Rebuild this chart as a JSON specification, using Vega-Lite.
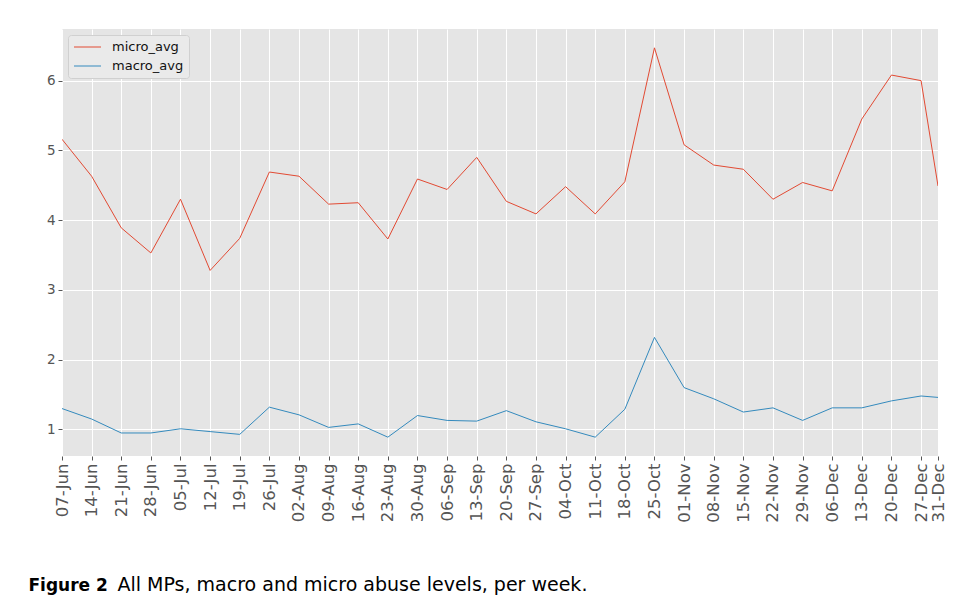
{
  "$schema": "https://vega.github.io/schema/vega-lite/v6.json",
  "autosize": "none",
  "width": 876,
  "height": 427,
  "padding": {"left": 62, "top": 29, "right": 17, "bottom": 148},
  "background": "white",
  "data": {
    "values": [
      {"week": "2019-06-07T00:00:00", "micro_avg": 5.16, "macro_avg": 1.30},
      {"week": "2019-06-14T00:00:00", "micro_avg": 4.63, "macro_avg": 1.15},
      {"week": "2019-06-21T00:00:00", "micro_avg": 3.89, "macro_avg": 0.95},
      {"week": "2019-06-28T00:00:00", "micro_avg": 3.53, "macro_avg": 0.95},
      {"week": "2019-07-05T00:00:00", "micro_avg": 4.30, "macro_avg": 1.01},
      {"week": "2019-07-12T00:00:00", "micro_avg": 3.28, "macro_avg": 0.97},
      {"week": "2019-07-19T00:00:00", "micro_avg": 3.74, "macro_avg": 0.93},
      {"week": "2019-07-26T00:00:00", "micro_avg": 4.69, "macro_avg": 1.32},
      {"week": "2019-08-02T00:00:00", "micro_avg": 4.63, "macro_avg": 1.21},
      {"week": "2019-08-09T00:00:00", "micro_avg": 4.23, "macro_avg": 1.03},
      {"week": "2019-08-16T00:00:00", "micro_avg": 4.25, "macro_avg": 1.08},
      {"week": "2019-08-23T00:00:00", "micro_avg": 3.73, "macro_avg": 0.89},
      {"week": "2019-08-30T00:00:00", "micro_avg": 4.59, "macro_avg": 1.20},
      {"week": "2019-09-06T00:00:00", "micro_avg": 4.44, "macro_avg": 1.13},
      {"week": "2019-09-13T00:00:00", "micro_avg": 4.90, "macro_avg": 1.12},
      {"week": "2019-09-20T00:00:00", "micro_avg": 4.27, "macro_avg": 1.27},
      {"week": "2019-09-27T00:00:00", "micro_avg": 4.09, "macro_avg": 1.11},
      {"week": "2019-10-04T00:00:00", "micro_avg": 4.48, "macro_avg": 1.01},
      {"week": "2019-10-11T00:00:00", "micro_avg": 4.09, "macro_avg": 0.89},
      {"week": "2019-10-18T00:00:00", "micro_avg": 4.55, "macro_avg": 1.29},
      {"week": "2019-10-25T00:00:00", "micro_avg": 6.47, "macro_avg": 2.32},
      {"week": "2019-11-01T00:00:00", "micro_avg": 5.08, "macro_avg": 1.60},
      {"week": "2019-11-08T00:00:00", "micro_avg": 4.79, "macro_avg": 1.44},
      {"week": "2019-11-15T00:00:00", "micro_avg": 4.73, "macro_avg": 1.25},
      {"week": "2019-11-22T00:00:00", "micro_avg": 4.30, "macro_avg": 1.31},
      {"week": "2019-11-29T00:00:00", "micro_avg": 4.54, "macro_avg": 1.13},
      {"week": "2019-12-06T00:00:00", "micro_avg": 4.42, "macro_avg": 1.31},
      {"week": "2019-12-13T00:00:00", "micro_avg": 5.45, "macro_avg": 1.31},
      {"week": "2019-12-20T00:00:00", "micro_avg": 6.08, "macro_avg": 1.41},
      {"week": "2019-12-27T00:00:00", "micro_avg": 6.00, "macro_avg": 1.48},
      {"week": "2019-12-31T00:00:00", "micro_avg": 4.49, "macro_avg": 1.46}
    ]
  },
  "transform": [
    {"fold": ["micro_avg", "macro_avg"], "as": ["series", "value"]}
  ],
  "mark": {"type": "line", "strokeWidth": 1, "clip": true},
  "encoding": {
    "x": {
      "field": "week",
      "type": "temporal",
      "scale": {
        "domain": [
          {"year": 2019, "month": 6, "date": 7},
          {"year": 2019, "month": 12, "date": 31}
        ],
        "nice": false
      },
      "axis": {
        "format": "%d-%b",
        "values": [
          {"year": 2019, "month": 6, "date": 7},
          {"year": 2019, "month": 6, "date": 14},
          {"year": 2019, "month": 6, "date": 21},
          {"year": 2019, "month": 6, "date": 28},
          {"year": 2019, "month": 7, "date": 5},
          {"year": 2019, "month": 7, "date": 12},
          {"year": 2019, "month": 7, "date": 19},
          {"year": 2019, "month": 7, "date": 26},
          {"year": 2019, "month": 8, "date": 2},
          {"year": 2019, "month": 8, "date": 9},
          {"year": 2019, "month": 8, "date": 16},
          {"year": 2019, "month": 8, "date": 23},
          {"year": 2019, "month": 8, "date": 30},
          {"year": 2019, "month": 9, "date": 6},
          {"year": 2019, "month": 9, "date": 13},
          {"year": 2019, "month": 9, "date": 20},
          {"year": 2019, "month": 9, "date": 27},
          {"year": 2019, "month": 10, "date": 4},
          {"year": 2019, "month": 10, "date": 11},
          {"year": 2019, "month": 10, "date": 18},
          {"year": 2019, "month": 10, "date": 25},
          {"year": 2019, "month": 11, "date": 1},
          {"year": 2019, "month": 11, "date": 8},
          {"year": 2019, "month": 11, "date": 15},
          {"year": 2019, "month": 11, "date": 22},
          {"year": 2019, "month": 11, "date": 29},
          {"year": 2019, "month": 12, "date": 6},
          {"year": 2019, "month": 12, "date": 13},
          {"year": 2019, "month": 12, "date": 20},
          {"year": 2019, "month": 12, "date": 27},
          {"year": 2019, "month": 12, "date": 31}
        ],
        "labelAngle": -90,
        "labelFontSize": 16.5,
        "labelPadding": 3,
        "labelOverlap": false,
        "labelFlush": false,
        "title": "Figure 2",
        "titleFont": "DejaVu Sans",
        "titleFontSize": 17,
        "titleFontWeight": "bold",
        "titleColor": "#000000",
        "titleAnchor": "start",
        "titleAlign": "left",
        "titleBaseline": "alphabetic",
        "titleAngle": 0,
        "titleX": -34,
        "titleY": 134
      }
    },
    "y": {
      "field": "value",
      "type": "quantitative",
      "scale": {"domain": [0.62, 6.74], "nice": false, "zero": false},
      "axis": {
        "values": [1, 2, 3, 4, 5, 6],
        "labelFontSize": 13.5,
        "labelPadding": 3,
        "title": "All MPs, macro and micro abuse levels, per week.",
        "titleFont": "DejaVu Sans",
        "titleFontSize": 19,
        "titleFontWeight": "normal",
        "titleColor": "#000000",
        "titleAngle": 0,
        "titleAnchor": "start",
        "titleAlign": "left",
        "titleBaseline": "alphabetic",
        "titleX": 55,
        "titleY": 561
      }
    },
    "color": {
      "field": "series",
      "type": "nominal",
      "sort": ["micro_avg", "macro_avg"],
      "scale": {"domain": ["micro_avg", "macro_avg"], "range": ["#E24A33", "#348ABD"]},
      "legend": {
        "title": null,
        "orient": "top-left",
        "offset": 6,
        "symbolType": "stroke",
        "symbolSize": 729,
        "symbolStrokeWidth": 1.2,
        "clipHeight": 14,
        "labelFontSize": 13,
        "labelColor": "#111111",
        "labelFont": "DejaVu Sans",
        "labelOffset": 10,
        "rowPadding": 5,
        "padding": 5,
        "fillColor": "#EAEAEA",
        "strokeColor": "#D0D0D0",
        "cornerRadius": 3
      }
    }
  },
  "config": {
    "font": "DejaVu Sans",
    "view": {"fill": "#E5E5E5", "stroke": null},
    "axis": {
      "domain": false,
      "grid": true,
      "gridColor": "#FFFFFF",
      "gridWidth": 1,
      "gridOpacity": 1,
      "tickColor": "#555555",
      "tickSize": 4,
      "tickWidth": 1,
      "labelColor": "#555555",
      "labelFont": "DejaVu Sans"
    }
  }
}
